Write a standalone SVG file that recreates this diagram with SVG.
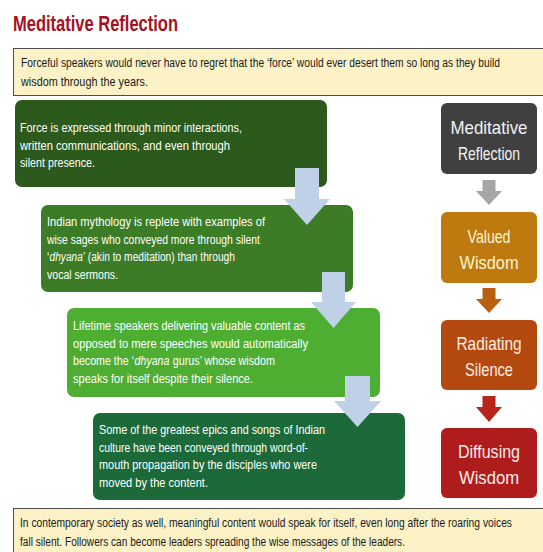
<svg xmlns="http://www.w3.org/2000/svg" width="543" height="552" viewBox="0 0 543 552">
  <style>
    .title { font-family: "Liberation Sans", Arial, sans-serif; font-weight: bold; font-size: 22px; fill: #A8101E; }
    .note { font-family: "Liberation Sans", Arial, sans-serif; font-size: 12.5px; fill: #1a1a1a; }
    .body { font-family: "Liberation Sans", Arial, sans-serif; font-size: 12.5px; fill: #ffffff; }
    .em { font-style: italic; }
    .step { font-family: "Liberation Sans", Arial, sans-serif; font-size: 19px; text-anchor: middle; }
    .notebox { fill: #FCF2C6; stroke: #4d4d4d; stroke-width: 1; }
    .flow { fill: #BFD1E7; }
  </style>

  <rect width="543" height="552" fill="#ffffff"/>

  <text class="title" x="13" y="31" textLength="165" lengthAdjust="spacingAndGlyphs">Meditative Reflection</text>

  <!-- introductory note -->
  <g id="intro">
    <rect class="notebox" x="13.5" y="48.5" width="531" height="47"/>
    <text class="note" x="21" y="67" textLength="479" lengthAdjust="spacingAndGlyphs">Forceful speakers would never have to regret that the ‘force’ would ever desert them so long as they build</text>
    <text class="note" x="21" y="86" textLength="127" lengthAdjust="spacingAndGlyphs">wisdom through the years.</text>
  </g>

  <!-- left cascade of statements -->
  <g id="force">
    <rect x="15" y="100" width="312" height="87" rx="7" fill="#2C5A1C"/>
    <text class="body" x="20" y="132" textLength="222" lengthAdjust="spacingAndGlyphs">Force is expressed through minor interactions,</text>
    <text class="body" x="20" y="149.5" textLength="210" lengthAdjust="spacingAndGlyphs">written communications, and even through</text>
    <text class="body" x="20" y="167" textLength="75" lengthAdjust="spacingAndGlyphs">silent presence.</text>
  </g>

  <g id="mythology">
    <rect x="41" y="205" width="312" height="87" rx="7" fill="#3C7C26"/>
    <text class="body" x="47" y="226" textLength="218" lengthAdjust="spacingAndGlyphs">Indian mythology is replete with examples of</text>
    <text class="body" x="47" y="243.5" textLength="213" lengthAdjust="spacingAndGlyphs">wise sages who conveyed more through silent</text>
    <text class="body" x="47" y="261" textLength="2.4" lengthAdjust="spacingAndGlyphs">‘</text>
    <text class="body em" x="49.6" y="261" textLength="33.2" lengthAdjust="spacingAndGlyphs">dhyana</text>
    <text class="body" x="83" y="261" textLength="152" lengthAdjust="spacingAndGlyphs">’ (akin to meditation) than through</text>
    <text class="body" x="47" y="278.5" textLength="71" lengthAdjust="spacingAndGlyphs">vocal sermons.</text>
  </g>

  <g id="speakers">
    <rect x="67" y="308" width="313" height="89" rx="7" fill="#4DAE32"/>
    <text class="body" x="73" y="330" textLength="232" lengthAdjust="spacingAndGlyphs">Lifetime speakers delivering valuable content as</text>
    <text class="body" x="73" y="347.5" textLength="235" lengthAdjust="spacingAndGlyphs">opposed to mere speeches would automatically</text>
    <text class="body" x="73" y="365" textLength="61" lengthAdjust="spacingAndGlyphs">become the ‘</text>
    <text class="body em" x="134.6" y="365" textLength="34.8" lengthAdjust="spacingAndGlyphs">dhyana</text>
    <text class="body" x="172.8" y="365" textLength="102.2" lengthAdjust="spacingAndGlyphs">gurus’ whose wisdom</text>
    <text class="body" x="73" y="382.5" textLength="180" lengthAdjust="spacingAndGlyphs">speaks for itself despite their silence.</text>
  </g>

  <g id="epics">
    <rect x="93" y="413" width="312" height="87" rx="7" fill="#1C6A3A"/>
    <text class="body" x="99" y="434" textLength="226" lengthAdjust="spacingAndGlyphs">Some of the greatest epics and songs of Indian</text>
    <text class="body" x="99" y="451.5" textLength="209" lengthAdjust="spacingAndGlyphs">culture have been conveyed through word-of-</text>
    <text class="body" x="99" y="469" textLength="218" lengthAdjust="spacingAndGlyphs">mouth propagation by the disciples who were</text>
    <text class="body" x="99" y="486.5" textLength="109" lengthAdjust="spacingAndGlyphs">moved by the content.</text>
  </g>

  <!-- right column of stages -->
  <g id="stage-reflection">
    <rect x="441" y="103" width="96" height="71" rx="6" fill="#404040"/>
    <text class="step" x="489" y="134" fill="#F2F2F2" textLength="77" lengthAdjust="spacingAndGlyphs">Meditative</text>
    <text class="step" x="489" y="160" fill="#F2F2F2" textLength="62" lengthAdjust="spacingAndGlyphs">Reflection</text>
  </g>
  <g id="stage-wisdom">
    <rect x="441" y="212" width="96" height="71" rx="6" fill="#BE7A0E"/>
    <text class="step" x="489" y="243" fill="#FFF3D2" textLength="43" lengthAdjust="spacingAndGlyphs">Valued</text>
    <text class="step" x="489" y="269" fill="#FFF3D2" textLength="59" lengthAdjust="spacingAndGlyphs">Wisdom</text>
  </g>
  <g id="stage-silence">
    <rect x="441" y="320" width="96" height="70" rx="6" fill="#B4490F"/>
    <text class="step" x="489" y="350" fill="#FCEEE2" textLength="65" lengthAdjust="spacingAndGlyphs">Radiating</text>
    <text class="step" x="489" y="376" fill="#FCEEE2" textLength="48" lengthAdjust="spacingAndGlyphs">Silence</text>
  </g>
  <g id="stage-diffusing">
    <rect x="441" y="428" width="96" height="70" rx="6" fill="#AE1C1C"/>
    <text class="step" x="489" y="458" fill="#FCEDEA" textLength="62" lengthAdjust="spacingAndGlyphs">Diffusing</text>
    <text class="step" x="489" y="484" fill="#FCEDEA" textLength="60" lengthAdjust="spacingAndGlyphs">Wisdom</text>
  </g>

  <!-- block arrows -->
  <g id="connectors">
    <polygon class="flow" points="295,168 319,168 319,199 330,199 307,225 284,199 295,199"/>
    <polygon class="flow" points="322,272 345,272 345,302 356,302 333.5,328 311,302 322,302"/>
    <polygon class="flow" points="345,376 370,376 370,401 381,401 357.5,427 334,401 345,401"/>

    <polygon fill="#A6A6A6" points="482.5,180 495.5,180 495.5,191 502,191 489,205 476,191 482.5,191"/>
    <polygon fill="#B8600F" points="482.5,288 495.5,288 495.5,299 502,299 489,313 476,299 482.5,299"/>
    <polygon fill="#B8231A" points="482.5,396 495.5,396 495.5,407 502,407 489,422 476,407 482.5,407"/>
  </g>

  <!-- closing note -->
  <g id="outro">
    <rect class="notebox" x="13.5" y="508.5" width="531" height="50"/>
    <text class="note" x="20" y="527" textLength="492" lengthAdjust="spacingAndGlyphs">In contemporary society as well, meaningful content would speak for itself, even long after the roaring voices</text>
    <text class="note" x="20" y="546" textLength="385" lengthAdjust="spacingAndGlyphs">fall silent. Followers can become leaders spreading the wise messages of the leaders.</text>
  </g>
</svg>
